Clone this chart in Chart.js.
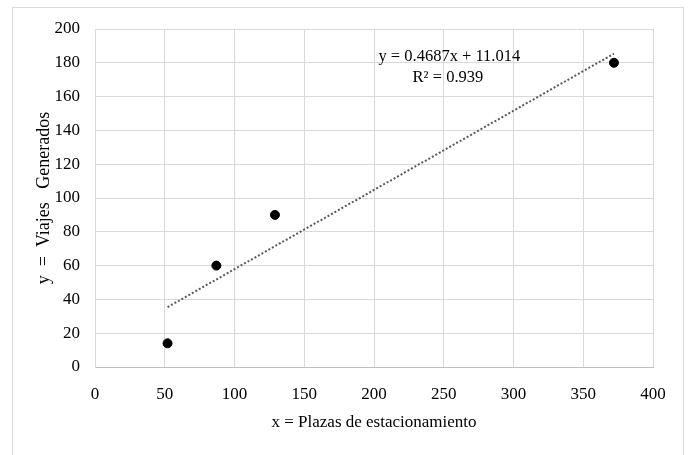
<!DOCTYPE html>
<html>
<head>
<meta charset="utf-8">
<script src="https://cdn.jsdelivr.net/npm/chart.js@4.4.1/dist/chart.umd.min.js"></script>
<style>
  body { margin: 0; background: #fff; }
  .wrap { position: relative; width: 688px; height: 455px; overflow: hidden; }
  .frame { position: absolute; left: 12px; top: 7px; width: 670px; height: 470px; border: 1px solid #d9d9d9; }
  canvas { position: absolute; left: 0; top: 0; }
</style>
</head>
<body>
<div class="wrap">
  <div class="frame"></div>
  <canvas id="chart" width="688" height="455"></canvas>
</div>
<script>
// datos
const plazas = [52, 87, 129, 372]
const viajes = [14, 60, 90, 180]

// linea de tendencia (extremos)
const trendX = [52, 372]
const trendY = [35.4, 185.4]

const eqText = 'y = 0.4687x + 11.014'
const r2Text = 'R² = 0.939'

const serif = "'Liberation Serif', 'Times New Roman', serif"

const points = plazas.map((x, i) => ({ x: x, y: viajes[i] }))
const trend = trendX.map((x, i) => ({ x: x, y: trendY[i] }))

// texto de la ecuacion
const eqLabel = {
    id: 'eqLabel',
    afterDatasetsDraw(chart) {
        const ctx = chart.ctx
        const xs = chart.scales.x
        const ys = chart.scales.y
        ctx.save()
        ctx.fillStyle = '#000'
        ctx.font = `16.5px ${serif}`
        ctx.textAlign = 'center'
        ctx.textBaseline = 'middle'
        ctx.fillText(eqText, xs.getPixelForValue(254), ys.getPixelForValue(183.5))
        ctx.fillText(r2Text, xs.getPixelForValue(253), ys.getPixelForValue(171))
        ctx.restore()
    }
}

const config = {
    type: 'scatter',
    data: {
        datasets: [{
            label: 'Viajes',
            data: points,
            backgroundColor: '#000',
            borderColor: '#000',
            pointRadius: 4.5,
            pointHoverRadius: 4.5,
        }, {
            label: 'Tendencia',
            type: 'line',
            data: trend,
            borderColor: '#595959',
            borderWidth: 2,
            borderDash: [2, 2],
            pointRadius: 0,
            fill: false,
        }]
    },
    options: {
        responsive: false,
        animation: false,
        layout: { padding: { top: 29, right: 35, left: 0, bottom: 0 } },
        plugins: { legend: { display: false }, tooltip: { enabled: false } },
        scales: {
            x: {
                type: 'linear',
                min: 0,
                max: 400,
                ticks: { stepSize: 50, color: '#000', padding: 17, font: { family: serif, size: 17 } },
                grid: { color: '#d9d9d9', drawTicks: false },
                border: { color: '#bfbfbf' },
                title: { display: true, text: 'x = Plazas de estacionamiento', color: '#000',
                    font: { family: serif, size: 17 }, padding: { top: 0, bottom: 22 } },
                afterFit(scale) { scale.height = 88 }
            },
            y: {
                min: 0,
                max: 200,
                ticks: { stepSize: 20, color: '#000', padding: 15, font: { family: serif, size: 17 } },
                grid: { color: '#d9d9d9', drawTicks: false },
                border: { color: '#d9d9d9' },
                title: { display: true, text: 'y  =  Viajes   Generados', color: '#000',
                    font: { family: serif, size: 18 }, padding: { top: 33, bottom: 0 } },
                afterFit(scale) { scale.width = 95 }
            }
        }
    },
    plugins: [eqLabel]
}

new Chart(document.getElementById('chart'), config)
</script>
</body>
</html>
